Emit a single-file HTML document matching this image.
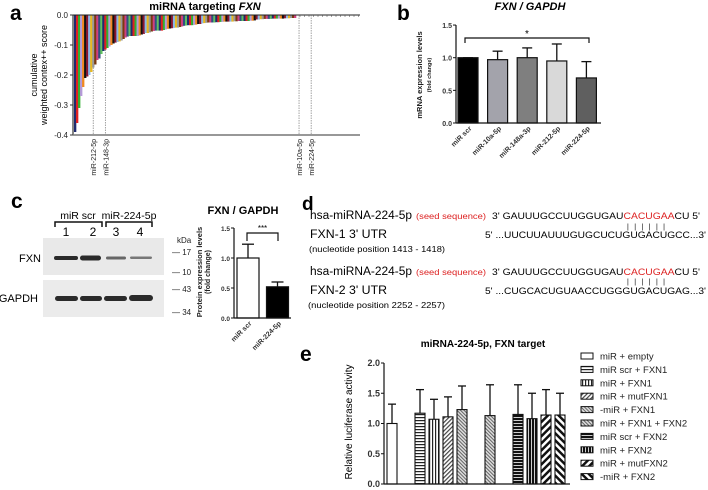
<!DOCTYPE html>
<html><head><meta charset="utf-8">
<style>
html,body{margin:0;padding:0;background:#fff;}
svg{display:block;font-family:"Liberation Sans",Arial,sans-serif;}
</style></head>
<body>
<svg id="fig" width="708" height="490" viewBox="0 0 708 490" xmlns="http://www.w3.org/2000/svg">
<defs>
<pattern id="pH" width="4" height="3" patternUnits="userSpaceOnUse"><rect width="4" height="3" fill="#fff"/><rect y="0" width="4" height="1.2" fill="#222"/></pattern>
<pattern id="pV" width="3" height="4" patternUnits="userSpaceOnUse"><rect width="3" height="4" fill="#fff"/><rect x="0" width="1.2" height="4" fill="#222"/></pattern>
<pattern id="pD1" width="3" height="3" patternUnits="userSpaceOnUse" patternTransform="rotate(45)"><rect width="3" height="3" fill="#fff"/><rect width="1.2" height="3" fill="#444"/></pattern>
<pattern id="pD2" width="2.5" height="2.5" patternUnits="userSpaceOnUse" patternTransform="rotate(-45)"><rect width="2.5" height="2.5" fill="#ddd"/><rect width="1" height="2.5" fill="#666"/></pattern>
<pattern id="pHB" width="4" height="3" patternUnits="userSpaceOnUse"><rect width="4" height="3" fill="#111"/><rect y="0" width="4" height="0.8" fill="#fff"/></pattern>
<pattern id="pVB" width="3" height="4" patternUnits="userSpaceOnUse"><rect width="3" height="4" fill="#111"/><rect width="0.8" height="4" fill="#fff"/></pattern>
<pattern id="pW1" width="5" height="5" patternUnits="userSpaceOnUse" patternTransform="rotate(45)"><rect width="5" height="5" fill="#fff"/><rect width="2.5" height="5" fill="#111"/></pattern>
<pattern id="pW2" width="5" height="5" patternUnits="userSpaceOnUse" patternTransform="rotate(-45)"><rect width="5" height="5" fill="#fff"/><rect width="2.5" height="5" fill="#111"/></pattern>
</defs>

<!-- Panel a -->
<g id="pa">
<text x="10" y="20" font-size="21" font-weight="bold">a</text>
<text x="205" y="10" font-size="11" font-weight="bold" text-anchor="middle">miRNA targeting <tspan font-style="italic">FXN</tspan></text>
<text transform="translate(37,75) rotate(-90)" font-size="9" text-anchor="middle">cumulative</text>
<text transform="translate(47,75) rotate(-90)" font-size="9" text-anchor="middle">weighted contex++ score</text>
<g id="pa-bars"></g>
<g id="pa-axes"></g>
</g>

<!-- Panel b -->
<g id="pb">
<text x="397" y="20" font-size="21" font-weight="bold">b</text>
<text x="530" y="10" font-size="11" font-weight="bold" font-style="italic" text-anchor="middle">FXN / GAPDH</text>
<text transform="translate(422,75) rotate(-90)" font-size="7.5" font-weight="bold" text-anchor="middle" fill="#222">mRNA expression levels</text>
<text transform="translate(431,75) rotate(-90)" font-size="5.5" font-weight="bold" text-anchor="middle" fill="#222">(fold change)</text>
<g id="pb-g"></g>
</g>

<!-- Panel c -->
<g id="pc">
<text x="11" y="208" font-size="21" font-weight="bold">c</text>
<text x="78" y="219" font-size="10.5" text-anchor="middle">miR scr</text>
<text x="129" y="219" font-size="10.5" text-anchor="middle">miR-224-5p</text>
<path d="M55,227 V222 H102 V227 M106,227 V222 H152 V227" stroke="#111" stroke-width="1.5" fill="none"/>
<text x="66" y="236" font-size="12" text-anchor="middle">1</text>
<text x="93" y="236" font-size="12" text-anchor="middle">2</text>
<text x="116" y="236" font-size="12" text-anchor="middle">3</text>
<text x="140" y="236" font-size="12" text-anchor="middle">4</text>
<rect x="43" y="238" width="121" height="37" fill="#e9e9e9"/>
<rect x="43" y="280" width="121" height="37" fill="#ebebeb"/>
<g fill="#2a2a2a">
<rect x="54" y="256" width="24" height="4" rx="2"/><rect x="80" y="255.5" width="21" height="5" rx="2.5"/>
<rect x="106" y="256.5" width="20" height="3" rx="1.5" fill="#666"/><rect x="130" y="256.5" width="22" height="2.5" rx="1.2" fill="#777"/>
</g>
<g fill="#2a2a2a">
<rect x="55" y="296" width="23" height="5" rx="2.5"/><rect x="80" y="296" width="22" height="5" rx="2.5"/>
<rect x="104" y="296" width="23" height="5" rx="2.5"/><rect x="129" y="295" width="24" height="6" rx="3"/>
</g>
<text x="41" y="262" font-size="11" text-anchor="end">FXN</text>
<text x="38" y="302" font-size="11" text-anchor="end">GAPDH</text>
<g font-size="8" fill="#222">
<text x="177" y="243">kDa</text>
<text x="172" y="255">— 17</text>
<text x="172" y="275">— 10</text>
<text x="172" y="292">— 43</text>
<text x="172" y="315">— 34</text>
</g>
<text x="243" y="214" font-size="11" font-weight="bold" text-anchor="middle">FXN / GAPDH</text>
<text transform="translate(202,272) rotate(-90)" font-size="7.5" font-weight="bold" text-anchor="middle" fill="#222">Protein expression levels</text>
<text transform="translate(210,272) rotate(-90)" font-size="7" font-weight="bold" text-anchor="middle" fill="#222">(fold change)</text>
<g id="pc-g"></g>
</g>

<!-- Panel d -->
<g id="pd">
<text x="302" y="210" font-size="19" font-weight="bold">d</text>
<text x="310" y="219" font-size="11.5" textLength="102" lengthAdjust="spacingAndGlyphs">hsa-miRNA-224-5p</text>
<text x="416" y="219" font-size="8.5" fill="#d22" textLength="70" lengthAdjust="spacingAndGlyphs">(seed sequence)</text>
<text x="492" y="219" font-size="9.5" textLength="208" lengthAdjust="spacingAndGlyphs">3' GAUUUGCCUUGGUGAU<tspan fill="#d22">CACUGAA</tspan>CU 5'</text>
<text x="627" y="229" font-size="7" textLength="38" lengthAdjust="spacing">| | | | | |</text>
<text x="310" y="238" font-size="12" textLength="77" lengthAdjust="spacingAndGlyphs">FXN-1  3' UTR</text>
<text x="485" y="238" font-size="9.5" textLength="221" lengthAdjust="spacingAndGlyphs">5' ...UUCUUAUUUGUGCUCUGUGACUGCC...3'</text>
<text x="309" y="252" font-size="8.5" textLength="136" lengthAdjust="spacingAndGlyphs">(nucleotide position 1413 - 1418)</text>
<text x="310" y="275" font-size="11.5" textLength="102" lengthAdjust="spacingAndGlyphs">hsa-miRNA-224-5p</text>
<text x="416" y="275" font-size="8.5" fill="#d22" textLength="70" lengthAdjust="spacingAndGlyphs">(seed sequence)</text>
<text x="492" y="275" font-size="9.5" textLength="208" lengthAdjust="spacingAndGlyphs">3' GAUUUGCCUUGGUGAU<tspan fill="#d22">CACUGAA</tspan>CU 5'</text>
<text x="627" y="284" font-size="7" textLength="38" lengthAdjust="spacing">| | | | | |</text>
<text x="310" y="294" font-size="12" textLength="77" lengthAdjust="spacingAndGlyphs">FXN-2  3' UTR</text>
<text x="485" y="294" font-size="9.5" textLength="221" lengthAdjust="spacingAndGlyphs">5' ...CUGCACUGUAACCUGGGUGACUGAG...3'</text>
<text x="308" y="308" font-size="8.5" textLength="137" lengthAdjust="spacingAndGlyphs">(nucleotide position 2252 - 2257)</text>
</g>

<!-- Panel e -->
<g id="pe">
<text x="300" y="361" font-size="21" font-weight="bold">e</text>
<text x="483" y="347" font-size="10" font-weight="bold" text-anchor="middle">miRNA-224-5p, FXN target</text>
<text transform="translate(352,422) rotate(-90)" font-size="10" text-anchor="middle">Relative luciferase activity</text>
<g id="pe-g"></g>
</g>
</svg>

<script>
var NS='http://www.w3.org/2000/svg';
function mk(parent,tag,attrs){var e=document.createElementNS(NS,tag);for(var k in attrs)e.setAttribute(k,attrs[k]);parent.appendChild(e);return e;}

// ---- Panel a data ----
var aScores=[-0.39,-0.36,-0.31,-0.27,-0.24,-0.21,-0.205,-0.20,-0.19,-0.175,-0.165,-0.15,-0.145,-0.13,-0.12,-0.115,-0.11,-0.105,-0.10,-0.095,-0.092,-0.09,-0.088,-0.085,-0.08,-0.075,-0.072,-0.07,-0.07,-0.07,-0.07,-0.07,-0.068,-0.065,-0.063,-0.06,-0.06,-0.058,-0.055,-0.053,-0.052,-0.052,-0.052,-0.052,-0.05,-0.048,-0.046,-0.045,-0.044,-0.043,-0.042,-0.042,-0.04,-0.038,-0.036,-0.035,-0.034,-0.034,-0.034,-0.033,-0.032,-0.03,-0.03,-0.028,-0.027,-0.026,-0.025,-0.025,-0.025,-0.025,-0.024,-0.024,-0.023,-0.023,-0.022,-0.022,-0.022,-0.022,-0.022,-0.021,-0.021,-0.02,-0.02,-0.02,-0.02,-0.02,-0.02,-0.019,-0.019,-0.018,-0.015,-0.015,-0.014,-0.014,-0.013,-0.013,-0.013,-0.013,-0.012,-0.012,-0.012,-0.012,-0.012,-0.012,-0.011,-0.011,-0.011,-0.01,-0.01,-0.01];
var aTicks=[0.0,-0.1,-0.2,-0.3,-0.4];
var aTickLabels=['0.0','-0.1','-0.2','-0.3','-0.4'];
var aMarkedNames=['miR-212-5p','miR-148-3p','miR-10a-5p','miR-224-5p'];
var aMarkedIdx=[9,15,111,117];

// ---- Panel b data ----
var bCats=['miR scr','miR-10a-5p','miR-148a-3p','miR-212-5p','miR-224-5p'];
var bVals=[1.0,0.97,1.0,0.95,0.69];
var bErr=[0,0.13,0.15,0.26,0.25];
var bTicks=[0,0.5,1.0,1.5];
var bTickLabels=['0.0','0.5','1.0','1.5'];

// ---- Panel c data ----
var cCats=['miR scr','miR-224-5p'];
var cVals=[1.0,0.52];
var cErr=[0.23,0.08];
var cTicks=[0,0.5,1.0,1.5];
var cTickLabels=['0.0','0.5','1.0','1.5'];

// ---- Panel e data ----
var eCats=['miR + empty','miR scr + FXN1','miR + FXN1','miR + mutFXN1','-miR + FXN1','miR + FXN1 + FXN2','miR scr + FXN2','miR + FXN2','miR + mutFXN2','-miR + FXN2'];
var eVals=[1.0,1.17,1.07,1.11,1.23,1.13,1.15,1.08,1.14,1.14];
var eErr=[0.32,0.39,0.33,0.33,0.39,0.51,0.49,0.42,0.42,0.36];
var eSlots=[0,2,3,4,5,7,9,10,11,12];
var eTicks=[0,0.5,1.0,1.5,2.0];
var eTickLabels=['0.0','0.5','1.0','1.5','2.0'];

// ===== Panel a =====
(function(){
 var g=document.getElementById('pa-bars'),ax=document.getElementById('pa-axes');
 var y=function(v){return 15-v*300;};
 var x0=74,x1=296,bw=(x1-x0)/aScores.length;
 var cols=['#1f2a6e','#e02020','#30b030','#b59ad8','#f08a20','#111','#8a1530','#8ab8e8','#e8b820','#999','#7a3a10','#d04080','#305080','#60c060'];
 aScores.forEach(function(v,i){
  var r=mk(g,'rect',{x:x0+i*bw,y:y(0),width:bw+0.3,height:y(v)-y(0),fill:cols[i%cols.length]});
  
  
 });
 var yl=mk(ax,'line',{x1:73,y1:y(0),x2:73,y2:y(-0.4),stroke:'#333','stroke-width':1.2});
 
 
 aTicks.forEach(function(t,i){
  mk(ax,'line',{x1:70,x2:73,y1:y(t),y2:y(t),stroke:'#333'});
  var tx=mk(ax,'text',{x:68,y:y(t)+3,'font-size':8,'text-anchor':'end',fill:'#222'});
  tx.textContent=aTickLabels[i];
  
  
 });
 var tl=mk(ax,'line',{x1:73,y1:y(0),x2:360,y2:y(0),stroke:'#222','stroke-width':1});
 
 
 for(var tx2=300;tx2<360;tx2+=4.5)mk(ax,'line',{x1:tx2,x2:tx2,y1:y(0),y2:y(0)+2,stroke:'#444','stroke-width':0.5});
 var bl=mk(ax,'line',{x1:73,y1:y(-0.4),x2:360,y2:y(-0.4),stroke:'#777','stroke-width':1.5});
 
 
 aMarkedNames.forEach(function(n,i){
  var idx=aMarkedIdx[i];
  var xx=x0+idx*bw+bw/2;
  var yTop=(aScores.length>idx)?y(aScores[idx]):y(0);
  var ln=mk(ax,'line',{x1:xx,x2:xx,y1:yTop,y2:y(-0.4),stroke:'#666','stroke-width':0.6,'stroke-dasharray':'1.5,1'});
  
  
  var t=mk(ax,'text',{transform:'translate('+(xx+3)+',139) rotate(-90)','font-size':7,'text-anchor':'end',fill:'#222'});
  t.textContent=n;
  
  
 });
})();

function barAxes(g,x0,x1,yf,ticks,labels,fs){
 var yl=mk(g,'line',{x1:x0,x2:x0,y1:yf(ticks[0]),y2:yf(ticks[ticks.length-1]),stroke:'#111','stroke-width':1.2});
 
 
 var xl=mk(g,'line',{x1:x0,x2:x1,y1:yf(0),y2:yf(0),stroke:'#111','stroke-width':1.2});
 
 
 ticks.forEach(function(t,i){
  mk(g,'line',{x1:x0-3,x2:x0,y1:yf(t),y2:yf(t),stroke:'#111'});
  var tx=mk(g,'text',{x:x0-4,y:yf(t)+3,'font-size':fs,'text-anchor':'end','font-weight':'bold',fill:'#333'});
  tx.textContent=labels[i];
  
  
 });
}
function errBar(g,cx,top,base,w){
 mk(g,'line',{x1:cx,x2:cx,y1:base,y2:top,stroke:'#111','stroke-width':1.3});
 mk(g,'line',{x1:cx-w,x2:cx+w,y1:top,y2:top,stroke:'#111','stroke-width':1.3});
}

// ===== Panel b =====
(function(){
 var g=document.getElementById('pb-g');
 var yf=function(v){return 123-v*65.3;};
 var fills=['#000','#a3a3ab','#7f7f7f','#d9d9d9','#5f5f5f'];
 bCats.forEach(function(c,i){
  var cx=468+i*29.6;
  errBar(g,cx,yf(bVals[i]+bErr[i]),yf(bVals[i]),5);
  var r=mk(g,'rect',{x:cx-10,y:yf(bVals[i]),width:20,height:yf(0)-yf(bVals[i]),fill:fills[i],stroke:'#111','stroke-width':1.2});
  
  
  var t=mk(g,'text',{transform:'translate('+(cx+4)+','+(yf(0)+6)+') rotate(-45)','font-size':7,'font-weight':'bold','text-anchor':'end',fill:'#333'});
  t.textContent=c;
  
  
 });
 barAxes(g,456,601,yf,bTicks,bTickLabels,7);
 var br=mk(g,'path',{d:'M465,43 V38 H589 V43',stroke:'#111','stroke-width':1.2,fill:'none'});
 
 
 var s=mk(g,'text',{x:527,y:37,'font-size':10,'text-anchor':'middle'});s.textContent='*';
 
 
})();

// ===== Panel c =====
(function(){
 var g=document.getElementById('pc-g');
 var yf=function(v){return 318-v*60;};
 var fills=['#fff','#000'];
 cCats.forEach(function(c,i){
  var cx=248+i*29.5;
  errBar(g,cx,yf(cVals[i]+cErr[i]),yf(cVals[i]),6);
  var r=mk(g,'rect',{x:cx-11,y:yf(cVals[i]),width:22,height:yf(0)-yf(cVals[i]),fill:fills[i],stroke:'#111','stroke-width':1.2});
  
  
  var t=mk(g,'text',{transform:'translate('+(cx+4)+','+(yf(0)+6)+') rotate(-45)','font-size':7,'font-weight':'bold','text-anchor':'end',fill:'#333'});
  t.textContent=c;
  
  
 });
 barAxes(g,234,291,yf,cTicks,cTickLabels,6.5);
 var br=mk(g,'path',{d:'M247,241 V233 H278 V241',stroke:'#111','stroke-width':1.2,fill:'none'});
 
 
 var s=mk(g,'text',{x:262.5,y:231,'font-size':8,'text-anchor':'middle'});s.textContent='***';
 
 
})();

// ===== Panel e =====
(function(){
 var g=document.getElementById('pe-g');
 var yf=function(v){return 484-v*60.5;};
 var fills=['#fff','url(#pH)','url(#pV)','url(#pD1)','url(#pD2)','url(#pD2)','url(#pHB)','url(#pVB)','url(#pW1)','url(#pW2)'];
 eCats.forEach(function(c,i){
  var cx=392+eSlots[i]*14;
  errBar(g,cx,yf(eVals[i]+eErr[i]),yf(eVals[i]),4);
  var r=mk(g,'rect',{x:cx-5,y:yf(eVals[i]),width:10,height:yf(0)-yf(eVals[i]),fill:fills[i],stroke:'#111','stroke-width':1.1});
  
  
  var ly=356+i*13.4;
  var sw=mk(g,'rect',{x:581,y:ly-3,width:12,height:6,fill:fills[i],stroke:'#111','stroke-width':1});
  
  
  var t=mk(g,'text',{x:600,y:ly+3.5,'font-size':9.5,fill:'#222'});
  t.textContent=c;
  
  
 });
 barAxes(g,384,570,yf,eTicks,eTickLabels,9);
})();
</script>
</body></html>
